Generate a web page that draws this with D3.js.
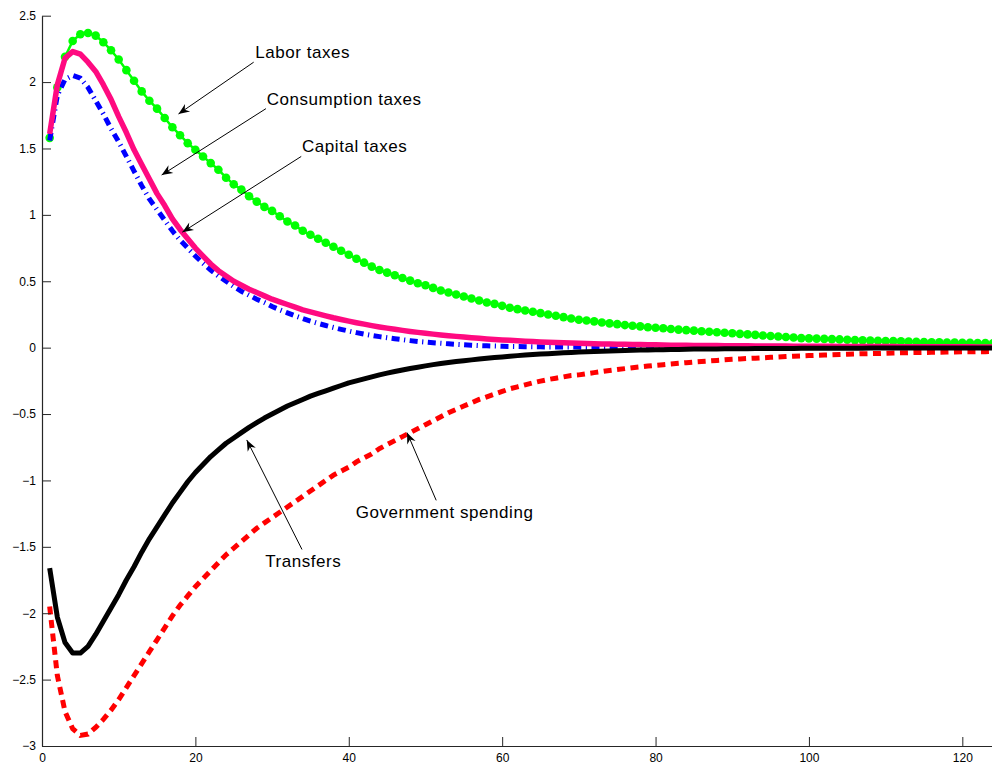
<!DOCTYPE html>
<html>
<head>
<meta charset="utf-8">
<script src="https://cdn.jsdelivr.net/npm/d3@7"></script>
<style>
  html, body { margin: 0; padding: 0; background: #fff; }
  svg { display: block; }
  text { font-family: "Liberation Sans", Arial, Helvetica, sans-serif; }
</style>
</head>
<body>
<svg id="chart" width="992" height="767"></svg>
<script>
// ---- data (periods 1..124) ----
const periods = d3.range(1, 125);

const laborTaxes = [
  1.58, 1.96, 2.19, 2.31, 2.36, 2.37, 2.35, 2.30, 2.24, 2.17,
  2.09, 2.01, 1.93, 1.86, 1.80, 1.73, 1.66, 1.60, 1.54, 1.49,
  1.44, 1.39, 1.34, 1.28, 1.23, 1.19, 1.14, 1.10, 1.06, 1.03,
  0.99, 0.95, 0.92, 0.88, 0.85, 0.82, 0.79, 0.76, 0.73, 0.70,
  0.67, 0.64, 0.61, 0.585, 0.565, 0.545, 0.525, 0.505, 0.485, 0.47,
  0.45, 0.43, 0.415, 0.40, 0.385, 0.37, 0.355, 0.34, 0.33, 0.315,
  0.30, 0.29, 0.28, 0.27, 0.26, 0.25, 0.24, 0.23, 0.22, 0.21,
  0.205, 0.198, 0.19, 0.183, 0.177, 0.17, 0.165, 0.16, 0.154, 0.15,
  0.146, 0.141, 0.136, 0.132, 0.128, 0.124, 0.12, 0.116, 0.112, 0.108,
  0.104, 0.10, 0.096, 0.092, 0.088, 0.084, 0.08, 0.076, 0.072, 0.07,
  0.068, 0.066, 0.064, 0.062, 0.06, 0.057, 0.055, 0.053, 0.052, 0.05,
  0.049, 0.047, 0.046, 0.044, 0.043, 0.041, 0.040, 0.039, 0.038, 0.037,
  0.036, 0.035, 0.034, 0.033
];

const consumptionTaxes = [
  1.61, 1.98, 2.18, 2.23, 2.21, 2.15, 2.08, 1.98, 1.87, 1.74,
  1.62, 1.49, 1.38, 1.27, 1.16, 1.07, 0.97, 0.89, 0.82, 0.75,
  0.69, 0.63, 0.58, 0.54, 0.50, 0.47, 0.44, 0.415, 0.39, 0.365,
  0.345, 0.325, 0.305, 0.285, 0.27, 0.255, 0.24, 0.225, 0.212, 0.20,
  0.188, 0.177, 0.166, 0.156, 0.147, 0.138, 0.13, 0.122, 0.115, 0.108,
  0.102, 0.096, 0.09, 0.085, 0.08, 0.075, 0.07, 0.066, 0.062, 0.058,
  0.055, 0.052, 0.049, 0.046, 0.043, 0.041, 0.039, 0.037, 0.035, 0.033,
  0.031, 0.029, 0.028, 0.027, 0.026, 0.025, 0.024, 0.023, 0.022, 0.021,
  0.02, 0.019, 0.019, 0.018, 0.017, 0.017, 0.016, 0.016, 0.015, 0.015,
  0.014, 0.014, 0.013, 0.013, 0.012, 0.012, 0.012, 0.011, 0.011, 0.011,
  0.010, 0.010, 0.010, 0.009, 0.009, 0.009, 0.009, 0.008, 0.008, 0.008,
  0.008, 0.007, 0.007, 0.007, 0.007, 0.007, 0.006, 0.006, 0.006, 0.006,
  0.006, 0.005, 0.005, 0.005
];

const capitalTaxes = [
  1.56, 1.90, 2.02, 2.05, 2.03, 1.96, 1.86, 1.76, 1.65, 1.55,
  1.44, 1.33, 1.22, 1.12, 1.04, 0.96, 0.88, 0.81, 0.75, 0.69,
  0.635, 0.585, 0.54, 0.50, 0.46, 0.425, 0.395, 0.365, 0.34, 0.31,
  0.285, 0.262, 0.24, 0.22, 0.20, 0.183, 0.167, 0.152, 0.138, 0.125,
  0.113, 0.102, 0.092, 0.083, 0.075, 0.067, 0.06, 0.053, 0.047, 0.042,
  0.037, 0.033, 0.029, 0.025, 0.022, 0.019, 0.016, 0.014, 0.012, 0.010,
  0.009, 0.008, 0.007, 0.006, 0.006, 0.005, 0.005, 0.004, 0.004, 0.004,
  0.003, 0.003, 0.003, 0.003, 0.002, 0.002, 0.002, 0.002, 0.002, 0.002,
  0.002, 0.001, 0.001, 0.001, 0.001, 0.001, 0.001, 0.001, 0.001, 0.001,
  0.001, 0.001, 0.001, 0.001, 0.001, 0.001, 0.001, 0.001, 0.001, 0.001,
  0.001, 0.001, 0.001, 0.001, 0.001, 0.001, 0.001, 0.001, 0.001, 0.001,
  0.001, 0.001, 0.001, 0.001, 0.001, 0.001, 0.001, 0.001, 0.001, 0.001,
  0.001, 0.001, 0.001, 0.001
];

const transfers = [
  -1.66, -2.03, -2.22, -2.30, -2.30, -2.25, -2.16, -2.06, -1.96, -1.86,
  -1.75, -1.65, -1.54, -1.44, -1.35, -1.26, -1.17, -1.09, -1.01, -0.94,
  -0.88, -0.82, -0.77, -0.72, -0.68, -0.64, -0.60, -0.565, -0.53, -0.50,
  -0.47, -0.44, -0.415, -0.39, -0.365, -0.345, -0.325, -0.305, -0.285, -0.265,
  -0.25, -0.235, -0.22, -0.205, -0.192, -0.18, -0.168, -0.157, -0.147, -0.137,
  -0.128, -0.12, -0.112, -0.105, -0.098, -0.092, -0.086, -0.08, -0.075, -0.07,
  -0.065, -0.06, -0.056, -0.052, -0.048, -0.045, -0.042, -0.039, -0.036, -0.033,
  -0.031, -0.029, -0.027, -0.025, -0.023, -0.021, -0.02, -0.018, -0.017, -0.016,
  -0.015, -0.014, -0.013, -0.012, -0.011, -0.011, -0.010, -0.010, -0.009, -0.009,
  -0.008, -0.008, -0.007, -0.007, -0.007, -0.006, -0.006, -0.006, -0.005, -0.005,
  -0.005, -0.005, -0.004, -0.004, -0.004, -0.004, -0.004, -0.003, -0.003, -0.003,
  -0.003, -0.003, -0.003, -0.002, -0.002, -0.002, -0.002, -0.002, -0.002, -0.002,
  -0.002, -0.002, -0.002, -0.002
];

const governmentSpending = [
  -1.95, -2.47, -2.74, -2.87, -2.92, -2.91, -2.86, -2.80, -2.73, -2.65,
  -2.56, -2.47, -2.38, -2.29, -2.20, -2.11, -2.02, -1.94, -1.87, -1.80,
  -1.74, -1.68, -1.62, -1.56, -1.51, -1.46, -1.41, -1.36, -1.32, -1.28,
  -1.24, -1.20, -1.16, -1.12, -1.08, -1.04, -1.00, -0.96, -0.93, -0.90,
  -0.86, -0.83, -0.80, -0.76, -0.73, -0.70, -0.67, -0.64, -0.61, -0.58,
  -0.55, -0.52, -0.49, -0.465, -0.44, -0.415, -0.39, -0.37, -0.35, -0.33,
  -0.31, -0.295, -0.28, -0.265, -0.252, -0.24, -0.23, -0.22, -0.21, -0.205,
  -0.196, -0.188, -0.18, -0.172, -0.165, -0.158, -0.151, -0.145, -0.139, -0.133,
  -0.128, -0.123, -0.118, -0.113, -0.108, -0.104, -0.10, -0.096, -0.092, -0.088,
  -0.085, -0.082, -0.079, -0.076, -0.073, -0.07, -0.067, -0.064, -0.062, -0.06,
  -0.058, -0.056, -0.054, -0.052, -0.05, -0.048, -0.046, -0.045, -0.044, -0.042,
  -0.04, -0.039, -0.038, -0.037, -0.036, -0.035, -0.034, -0.033, -0.032, -0.031,
  -0.031, -0.03, -0.03, -0.029
];

const xTicks = [0, 20, 40, 60, 80, 100, 120];
const yTicks = [-3, -2.5, -2, -1.5, -1, -0.5, 0, 0.5, 1, 1.5, 2, 2.5];

// annotations: label, text anchor (data units), arrow tail and tip (data units)
const annotations = [
  { label: "Labor taxes",         tx: 27.8, ty: 2.18,  x1: 27.6, y1: 2.15,  x2: 17.8, y2: 1.76 },
  { label: "Consumption taxes",   tx: 29.3, ty: 1.83,  x1: 29.2, y1: 1.80,  x2: 15.6, y2: 1.30 },
  { label: "Capital taxes",       tx: 33.9, ty: 1.47,  x1: 33.8, y1: 1.44,  x2: 18.3, y2: 0.87 },
  { label: "Transfers",           tx: 29.1, ty: -1.652, x1: 33.9, y1: -1.52, x2: 26.7, y2: -0.695 },
  { label: "Government spending", tx: 40.9, ty: -1.282, x1: 51.4, y1: -1.15, x2: 47.6, y2: -0.64 }
];

// ---- chart ----
const svg = d3.select("#chart");
const x = d3.scaleLinear().domain([0, 124]).range([42, 993]);
const y = d3.scaleLinear().domain([-3, 2.5]).range([746, 15.7]);

svg.append("defs").append("clipPath").attr("id", "clip")
  .append("rect").attr("x", 42).attr("y", 0).attr("width", 950).attr("height", 767);

const plot = svg.append("g").attr("clip-path", "url(#clip)");
const line = d3.line().x((d, i) => x(periods[i])).y(d => y(d));

// Labor taxes: green with circle markers
plot.append("path").datum(laborTaxes)
  .attr("d", line).attr("fill", "none")
  .attr("stroke", "#00ff00").attr("stroke-width", 2.5);
plot.append("g").selectAll("circle").data(laborTaxes).join("circle")
  .attr("cx", (d, i) => x(periods[i])).attr("cy", d => y(d))
  .attr("r", 4.3).attr("fill", "#00ff00");

// Capital taxes: blue dash-dot
plot.append("path").datum(capitalTaxes)
  .attr("d", line).attr("fill", "none")
  .attr("stroke", "#0000ff").attr("stroke-width", 5)
  .attr("stroke-dasharray", "8,4.5,1.2,4.5");

// Consumption taxes: pink solid
plot.append("path").datum(consumptionTaxes)
  .attr("d", line).attr("fill", "none")
  .attr("stroke", "#ff0a80").attr("stroke-width", 5.5)
  .attr("stroke-linejoin", "round");

// Government spending: red dashed
plot.append("path").datum(governmentSpending)
  .attr("d", line).attr("fill", "none")
  .attr("stroke", "#ff0000").attr("stroke-width", 5)
  .attr("stroke-dasharray", "8,5.5");

// Transfers: black solid
plot.append("path").datum(transfers)
  .attr("d", line).attr("fill", "none")
  .attr("stroke", "#000000").attr("stroke-width", 5)
  .attr("stroke-linejoin", "round");

// ---- axes ----
const axisColor = "#262626";
const xAxis = svg.append("g").attr("transform", "translate(0,746)")
  .call(d3.axisBottom(x).tickValues(xTicks).tickSizeInner(-9).tickSizeOuter(0).tickPadding(16)
    .tickFormat(d3.format("d")));
const yAxis = svg.append("g").attr("transform", "translate(42,0)")
  .call(d3.axisLeft(y).tickValues(yTicks).tickSizeInner(-9).tickSizeOuter(0).tickPadding(15)
    .tickFormat(d => d3.format("")(d).replace("-", "\u2212")));

[xAxis, yAxis].forEach(g => {
  g.select(".domain").attr("stroke", axisColor).attr("stroke-width", 1.2);
  g.selectAll(".tick line").attr("stroke", axisColor).attr("stroke-width", 1);
  g.selectAll(".tick text").attr("fill", "#000").style("font-size", "12px")
    .style("font-family", "'Liberation Sans', Arial, Helvetica, sans-serif");
});
xAxis.select(".domain").attr("d", "M42,0.5H992");
yAxis.selectAll(".tick text").attr("x", -6);
xAxis.selectAll(".tick text").attr("y", 7);

// ---- annotations ----
const ann = svg.append("g");
annotations.forEach(a => {
  const X1 = x(a.x1), Y1 = y(a.y1), X2 = x(a.x2), Y2 = y(a.y2);
  ann.append("line").attr("x1", X1).attr("y1", Y1).attr("x2", X2).attr("y2", Y2)
    .attr("stroke", "#000").attr("stroke-width", 1);
  const ang = Math.atan2(Y2 - Y1, X2 - X1) * 180 / Math.PI;
  ann.append("path")
    .attr("d", "M0,0 L-11,-4.5 L-7.5,0 L-11,4.5 Z")
    .attr("fill", "#000")
    .attr("transform", `translate(${X2},${Y2}) rotate(${ang})`);
  ann.append("text").attr("x", x(a.tx)).attr("y", y(a.ty))
    .attr("fill", "#000").style("font-size", "17px").style("letter-spacing", "0.55px")
    .text(a.label);
});
</script>
</body>
</html>
